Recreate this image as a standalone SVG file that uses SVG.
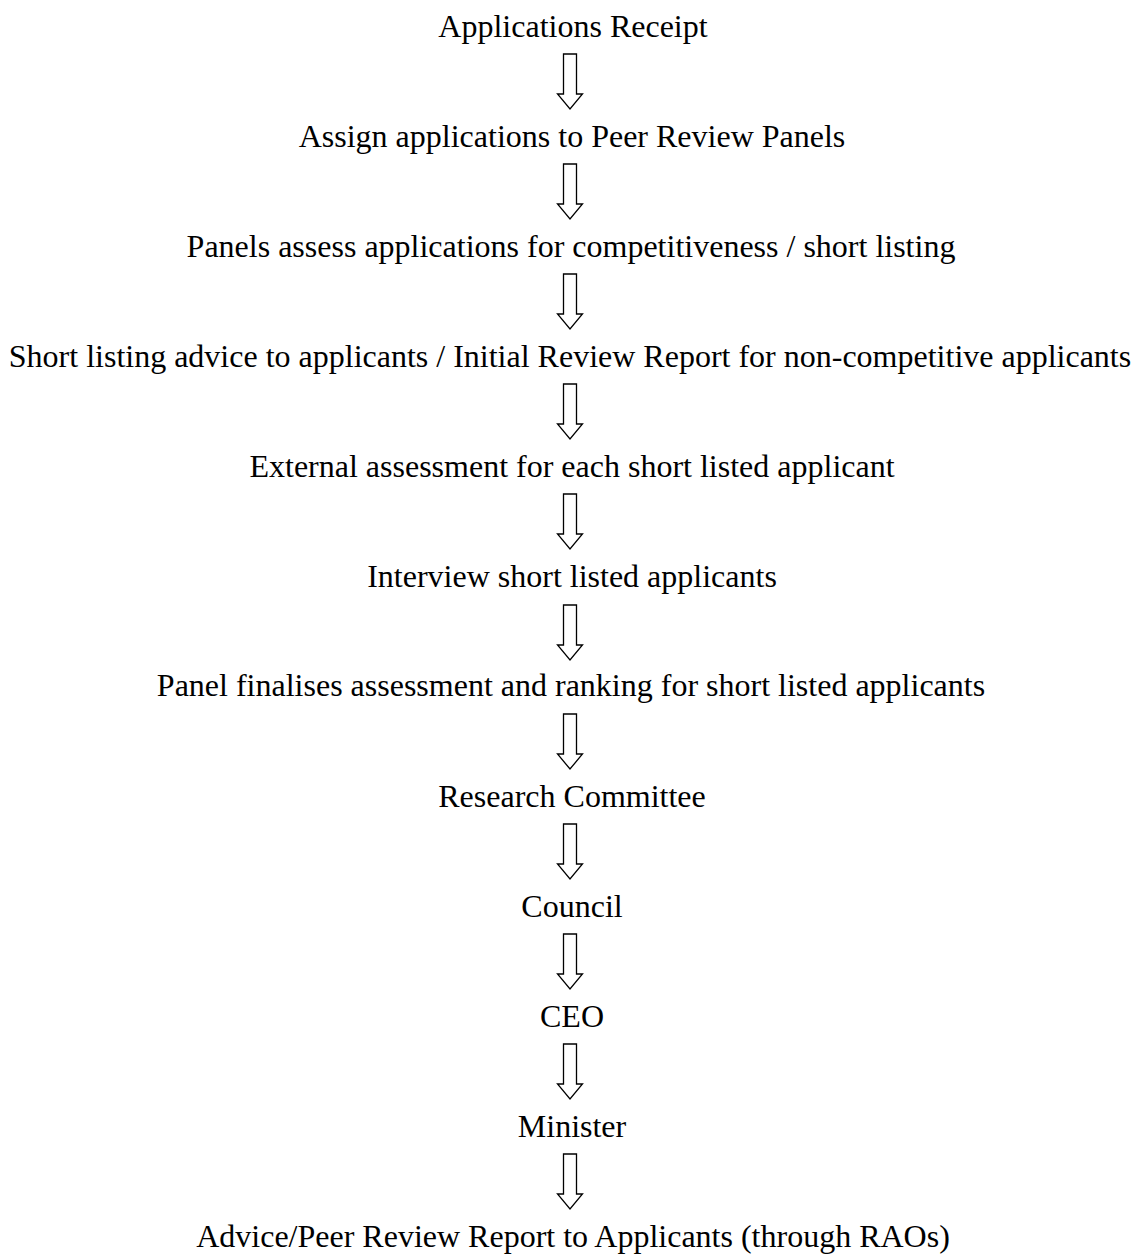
<svg xmlns="http://www.w3.org/2000/svg" width="1141" height="1254" viewBox="0 0 1141 1254">
<style>
text{font-family:"Liberation Serif","Times New Roman",serif;font-size:32px;fill:#000;text-anchor:middle}
.arr{fill:#fff;stroke:#000;stroke-width:1.3;stroke-linejoin:miter}
</style>
<defs>
<path id="a" d="M563.5,0 H576.5 V40 H582.5 L570,55 L557.5,40 H563.5 Z"/>
</defs>
<rect width="1141" height="1254" fill="#fff"/>
<g id="connectors">
<use href="#a" class="arr" transform="translate(0,54)"/>
<use href="#a" class="arr" transform="translate(0,164)"/>
<use href="#a" class="arr" transform="translate(0,274)"/>
<use href="#a" class="arr" transform="translate(0,384)"/>
<use href="#a" class="arr" transform="translate(0,494)"/>
<use href="#a" class="arr" transform="translate(0,605)"/>
<use href="#a" class="arr" transform="translate(0,714)"/>
<use href="#a" class="arr" transform="translate(0,824)"/>
<use href="#a" class="arr" transform="translate(0,934)"/>
<use href="#a" class="arr" transform="translate(0,1044)"/>
<use href="#a" class="arr" transform="translate(0,1154)"/>
</g>
<g id="n1"><text x="573" y="37">Applications Receipt</text></g>
<g id="n2"><text x="572" y="147">Assign applications to Peer Review Panels</text></g>
<g id="n3"><text x="571" y="257">Panels assess applications for competitiveness / short listing</text></g>
<g id="n4"><text x="570" y="367">Short listing advice to applicants / Initial Review Report for non-competitive applicants</text></g>
<g id="n5"><text x="572" y="477">External assessment for each short listed applicant</text></g>
<g id="n6"><text x="572" y="587">Interview short listed applicants</text></g>
<g id="n7"><text x="571" y="696">Panel finalises assessment and ranking for short listed applicants</text></g>
<g id="n8"><text x="572" y="807">Research Committee</text></g>
<g id="n9"><text x="572" y="917">Council</text></g>
<g id="n10"><text x="572" y="1027">CEO</text></g>
<g id="n11"><text x="572" y="1137">Minister</text></g>
<g id="n12"><text x="573" y="1247">Advice/Peer Review Report to Applicants (through RAOs)</text></g>
</svg>
